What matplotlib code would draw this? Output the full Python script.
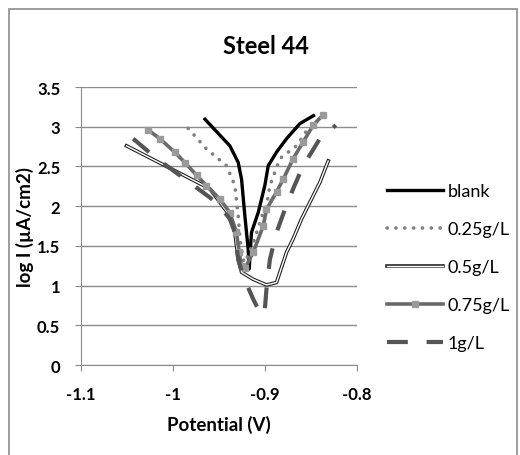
import matplotlib
matplotlib.use('Agg')
import matplotlib.pyplot as plt
from matplotlib.lines import Line2D
from matplotlib.patches import Rectangle

plt.rcParams['font.family'] = ['Lato', 'DejaVu Sans']

# potentiodynamic polarisation curves
blank_x = [-0.9667, -0.9384, -0.9293, -0.9257, -0.9221, -0.9185, -0.9174,
           -0.9149, -0.9076, -0.9004, -0.8967, -0.8877, -0.8768, -0.8623, -0.846]
blank_y = [3.11, 2.76, 2.55, 2.34, 1.88, 1.46, 1.21,
           1.67, 1.92, 2.26, 2.51, 2.68, 2.85, 3.04, 3.15]

c025_x = [-0.9837, -0.9638, -0.942, -0.933, -0.9293, -0.9275, -0.9239, -0.9220,
          -0.913, -0.9022, -0.8986, -0.8949, -0.884, -0.866, -0.855]
c025_y = [2.98, 2.72, 2.51, 2.26, 1.88, 1.59, 1.33, 1.29,
          1.54, 1.92, 2.0, 2.26, 2.6, 2.76, 2.95]

c05_x = [-1.0507, -0.9601, -0.9384, -0.933, -0.9293, -0.9257, -0.913, -0.8986,
         -0.8877, -0.884, -0.8768, -0.8696, -0.8605, -0.8514, -0.8406, -0.8315]
c05_y = [2.76, 2.22, 1.88, 1.67, 1.33, 1.17, 1.08, 1.01,
         1.04, 1.17, 1.42, 1.59, 1.84, 2.05, 2.3, 2.57]

c075_x = [-1.0272, -1.0145, -0.9982, -0.9873, -0.9746, -0.9638, -0.9493, -0.9384,
          -0.9312, -0.9283, -0.9257, -0.9220, -0.913, -0.9022, -0.8986, -0.8877,
          -0.8804, -0.8696, -0.8587, -0.8478, -0.837]
c075_y = [2.96, 2.85, 2.68, 2.55, 2.39, 2.26, 2.09, 1.92,
          1.67, 1.42, 1.25, 1.22, 1.42, 1.75, 1.96, 2.18,
          2.34, 2.6, 2.81, 3.02, 3.15]

c1_x = [-1.0435, -1.02, -0.9601, -0.9493, -0.9384, -0.933, -0.9293, -0.9239,
        -0.913, -0.904, -0.9004, -0.8986, -0.8949, -0.8877, -0.8786, -0.8696,
        -0.8587, -0.8406, -0.8232]
c1_y = [2.85, 2.62, 2.11, 2.0, 1.84, 1.67, 1.33, 1.12,
        0.83, 0.62, 0.70, 0.96, 1.33, 1.67, 1.96, 2.22,
        2.51, 2.85, 3.02]

labels = ['blank', '0.25g/L', '0.5g/L', '0.75g/L', '1g/L']
xticks = [-1.1, -1.0, -0.9, -0.8]
xticklabels = ['-1.1', '-1', '-0.9', '-0.8']
yticks = [0, 0.5, 1, 1.5, 2, 2.5, 3, 3.5]
yticklabels = ['0', '0.5', '1', '1.5', '2', '2.5', '3', '3.5']

dotted = (0, (0.05, 2.4))
dashed = (0, (5, 4.5))

fig = plt.figure(figsize=(5.2, 4.56), dpi=100)
ax = fig.add_axes([0.156, 0.197, 0.531, 0.61])

ax.plot(blank_x, blank_y, color='black', lw=2.4, solid_capstyle='butt')
ax.plot(c025_x, c025_y, color='#808080', lw=2.6, linestyle=dotted,
        dash_capstyle='round')
ax.plot(c05_x, c05_y, color='#222222', lw=2.6)
ax.plot(c05_x, c05_y, color='white', lw=1.0)
ax.plot(c075_x, c075_y, color='#6a6a6a', lw=2.6, marker='s', markersize=4,
        markerfacecolor='#9a9a9a', markeredgecolor='#9a9a9a')
ax.plot(c1_x, c1_y, color='#555555', lw=3.0, linestyle=dashed)

ax.set_xlim(-1.1, -0.8)
ax.set_ylim(0, 3.5)
ax.set_xticks(xticks)
ax.set_xticklabels(xticklabels, fontsize=12, fontweight='bold')
ax.set_yticks(yticks)
ax.set_yticklabels(yticklabels, fontsize=12, fontweight='bold')
ax.tick_params(axis='x', length=4, color='#888888', pad=11)
ax.tick_params(axis='y', length=4, color='#888888', pad=11)
ax.grid(axis='y', color='#8c8c8c', lw=1)
ax.set_axisbelow(True)
for s in ['top', 'right']:
    ax.spines[s].set_visible(False)
for s in ['left', 'bottom']:
    ax.spines[s].set_color('#8c8c8c')

ax.set_xlabel('Potential (V)', fontsize=13.5, fontweight='bold', labelpad=9)
ax.set_ylabel('log I (µA/cm2)', fontsize=13.5, fontweight='bold', labelpad=2)
fig.text(266 / 520, 1 - 47 / 456, 'Steel 44', fontsize=17, fontweight='bold',
         ha='center', va='center')

# legend handles
h_blank = Line2D([], [], color='black', lw=2.4)
h_025 = Line2D([], [], color='#808080', lw=2.6, linestyle=dotted,
               dash_capstyle='round')
h_05 = (Line2D([], [], color='#222222', lw=2.6), Line2D([], [], color='white', lw=1.0))
h_075 = Line2D([], [], color='#6a6a6a', lw=2.6, marker='s', markersize=4,
               markerfacecolor='#9a9a9a', markeredgecolor='#9a9a9a', markevery=[1])
h_1 = Line2D([], [], color='#555555', lw=3.0, linestyle=dashed)
fig.legend([h_blank, h_025, h_05, h_075, h_1], labels, loc='upper left',
           bbox_to_anchor=(380 / 520, 1 - 177 / 456), frameon=False,
           fontsize=13, handlelength=3.1, handletextpad=0.25, labelspacing=1.22,
           borderaxespad=0)

fig.add_artist(Rectangle((9 / 520, -0.02), 508 / 520, 1 - 10 / 456 + 0.02,
                         transform=fig.transFigure, fill=False,
                         edgecolor='#8c8c8c', lw=1.2))

fig.savefig('out.png', dpi=100)
